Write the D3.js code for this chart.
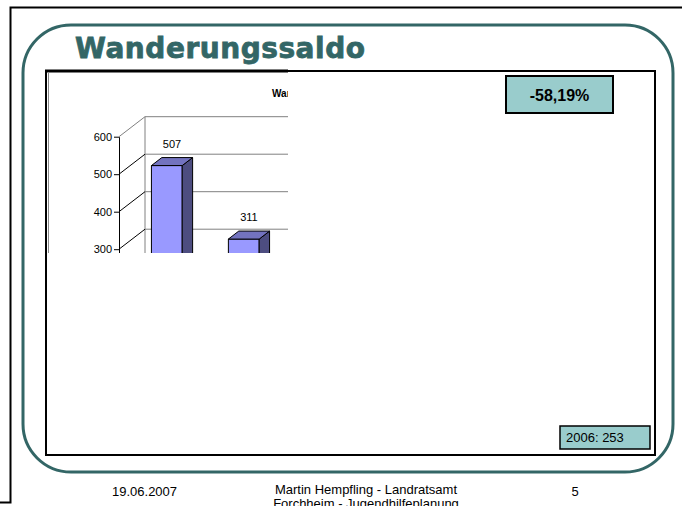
<!DOCTYPE html>
<meta charset="utf-8">

<!-- Load d3.js -->
<script src="https://d3js.org/d3.v7.min.js"></script>

<style>
  body { margin: 0; background: #fff; }
  text { font-family: "Liberation Sans", Arial, sans-serif; fill: #000; }
</style>

<!-- Create a div where the slide will take place -->
<div id="slide"></div>

<script>

// ---- data ----
var slideTitle = "Wanderungssaldo";
var chartTitle = "Wanderungssaldo";
// x labels of the chart are cut off in the slide
var categories = ["2000", "2001"];
var values = [507, 311];
var yTicks = [0, 100, 200, 300, 400, 500, 600];
var changeLabel = "-58,19%";
var lastYearLabel = "2006: 253";
var footerDate = "19.06.2007";
var footerAuthor = ["Martin Hempfling - Landratsamt", "Forchheim - Jugendhilfeplanung"];
var pageNumber = "5";

var teal = "#336666";

var svg = d3.select("#slide")
  .append("svg")
    .attr("width", 682)
    .attr("height", 506);

// outer black page frame (only top/left visible)
svg.append("path")
  .attr("d", "M0,502.5 H10.5 V7.5 H682")
  .attr("fill", "none")
  .attr("stroke", "#000")
  .attr("stroke-width", 2);

// teal rounded frame
svg.append("rect")
  .attr("x", 23).attr("y", 25)
  .attr("width", 650).attr("height", 447)
  .attr("rx", 48).attr("ry", 48)
  .attr("fill", "none")
  .attr("stroke", teal)
  .attr("stroke-width", 3);

// slide title
svg.append("text")
  .attr("x", 75)
  .attr("y", 58)
  .attr("textLength", 290)
  .attr("lengthAdjust", "spacing")
  .style("font-family", "'DejaVu Sans', Verdana, sans-serif")
  .style("font-weight", "bold")
  .style("font-size", "28px")
  .style("fill", teal)
  .style("stroke", teal)
  .style("stroke-width", 0.8)
  .text(slideTitle);

// black content frame
svg.append("rect")
  .attr("x", 46).attr("y", 71)
  .attr("width", 609).attr("height", 384)
  .attr("fill", "#fff")
  .attr("stroke", "#000")
  .attr("stroke-width", 2);

// pasted chart picture (cut off at right and bottom)
svg.append("defs").append("clipPath")
    .attr("id", "chartClip")
  .append("rect")
    .attr("x", 48).attr("y", 72)
    .attr("width", 240).attr("height", 181);

svg.append("line")
  .attr("x1", 45).attr("x2", 288)
  .attr("y1", 71).attr("y2", 71)
  .attr("stroke", "#000")
  .attr("stroke-width", 3);
svg.append("line")
  .attr("x1", 48.5).attr("x2", 48.5)
  .attr("y1", 72).attr("y2", 253)
  .attr("stroke", "#888")
  .attr("stroke-width", 1);

var chart = svg.append("g")
  .attr("clip-path", "url(#chartClip)");

// 3d depth of the walls and position of the bars inside it
var depthX = 26, depthY = 20;
var z0 = 0.3, z1 = 0.7;
function p(x, y, z) { return [x + z * depthX, y - z * depthY]; }

var x = d3.scaleBand()
  .domain(categories)
  .range([119, 276])
  .paddingInner(0.6)
  .paddingOuter(0.32);

var y = d3.scaleLinear()
  .domain([0, 600])
  .range([361.7, 136.7]);

var xLeft = x.range()[0], xRight = x.range()[1];

chart.append("text")
  .attr("x", 272)
  .attr("y", 97)
  .style("font-weight", "bold")
  .style("font-size", "10px")
  .text(chartTitle);

// back wall gridlines
chart.selectAll(".backGrid")
  .data(yTicks)
  .enter()
  .append("line")
    .attr("x1", function(d) { return p(xLeft, y(d), 1)[0]; })
    .attr("y1", function(d) { return p(xLeft, y(d), 1)[1]; })
    .attr("x2", function(d) { return p(xRight, y(d), 1)[0]; })
    .attr("y2", function(d) { return p(xRight, y(d), 1)[1]; })
    .attr("stroke", "#808080")
    .attr("stroke-width", 1);

// back wall left edge
chart.append("line")
  .attr("x1", p(xLeft, y(600), 1)[0]).attr("y1", p(xLeft, y(600), 1)[1])
  .attr("x2", p(xLeft, y(0), 1)[0]).attr("y2", p(xLeft, y(0), 1)[1])
  .attr("stroke", "#808080");

// side wall gridlines
chart.selectAll(".sideGrid")
  .data(yTicks)
  .enter()
  .append("line")
    .attr("x1", function(d) { return p(xLeft, y(d), 0)[0]; })
    .attr("y1", function(d) { return p(xLeft, y(d), 0)[1]; })
    .attr("x2", function(d) { return p(xLeft, y(d), 1)[0]; })
    .attr("y2", function(d) { return p(xLeft, y(d), 1)[1]; })
    .attr("stroke", function(d) { return d == 600 ? "#808080" : "#000"; })
    .attr("stroke-width", 1);

// y axis
var yAxis = chart.append("g")
  .attr("transform", "translate(" + xLeft + ",0)")
  .call(d3.axisLeft(y).tickValues(yTicks).tickSize(5).tickSizeOuter(0).tickPadding(2));
yAxis.selectAll("text")
  .style("font-family", "'Liberation Sans', Arial, sans-serif")
  .style("font-size", "11px")
  .style("fill", "#000");
yAxis.selectAll("line, path").attr("stroke", "#000");

// bars
var bars = chart.selectAll(".bar")
  .data(values)
  .enter()
  .append("g");

function poly(pts) { return pts.map(function(q) { return q.join(","); }).join(" "); }

bars.append("polygon")
  .attr("points", function(d, i) {
    var x0 = x(categories[i]), x1 = x0 + x.bandwidth();
    return poly([p(x0, y(d), z0), p(x1, y(d), z0), p(x1, y(0), z0), p(x0, y(0), z0)]);
  })
  .attr("fill", "#9999ff")
  .attr("stroke", "#000")
  .attr("stroke-width", 1);

bars.append("polygon")
  .attr("points", function(d, i) {
    var x1 = x(categories[i]) + x.bandwidth();
    return poly([p(x1, y(d), z0), p(x1, y(d), z1), p(x1, y(0), z1), p(x1, y(0), z0)]);
  })
  .attr("fill", "#4d4d80")
  .attr("stroke", "#000")
  .attr("stroke-width", 1);

bars.append("polygon")
  .attr("points", function(d, i) {
    var x0 = x(categories[i]), x1 = x0 + x.bandwidth();
    return poly([p(x0, y(d), z0), p(x1, y(d), z0), p(x1, y(d), z1), p(x0, y(d), z1)]);
  })
  .attr("fill", "#7373bf")
  .attr("stroke", "#000")
  .attr("stroke-width", 1);

// value labels
bars.append("text")
  .attr("x", function(d, i) { return p(x(categories[i]) + x.bandwidth() / 2, y(d), 0.5)[0]; })
  .attr("y", function(d, i) { return p(0, y(d), 0.5)[1] - 14; })
  .attr("text-anchor", "middle")
  .style("font-size", "11px")
  .style("fill", "#000")
  .text(function(d) { return d; });

// change box
svg.append("rect")
  .attr("x", 506).attr("y", 76)
  .attr("width", 107).attr("height", 37)
  .attr("fill", "#99cccc")
  .attr("stroke", "#000")
  .attr("stroke-width", 2);
svg.append("text")
  .attr("x", 559.5).attr("y", 101)
  .attr("text-anchor", "middle")
  .style("font-weight", "bold")
  .style("font-size", "16px")
  .text(changeLabel);

// last year box
svg.append("rect")
  .attr("x", 560).attr("y", 426)
  .attr("width", 90).attr("height", 23)
  .attr("fill", "#99cccc")
  .attr("stroke", "#000")
  .attr("stroke-width", 1.5);
svg.append("text")
  .attr("x", 566).attr("y", 442)
  .style("font-size", "13px")
  .text(lastYearLabel);

// footer (second author line is cut by the page edge, as in the slide)
svg.append("text")
  .attr("x", 112).attr("y", 496)
  .style("font-size", "13px")
  .text(footerDate);

svg.selectAll(".author")
  .data(footerAuthor)
  .enter()
  .append("text")
    .attr("x", 366)
    .attr("y", function(d, i) { return 494 + i * 14; })
    .attr("text-anchor", "middle")
    .style("font-size", "13px")
    .text(function(d) { return d; });

svg.append("text")
  .attr("x", 575).attr("y", 496)
  .attr("text-anchor", "middle")
  .style("font-size", "13px")
  .text(pageNumber);

</script>
